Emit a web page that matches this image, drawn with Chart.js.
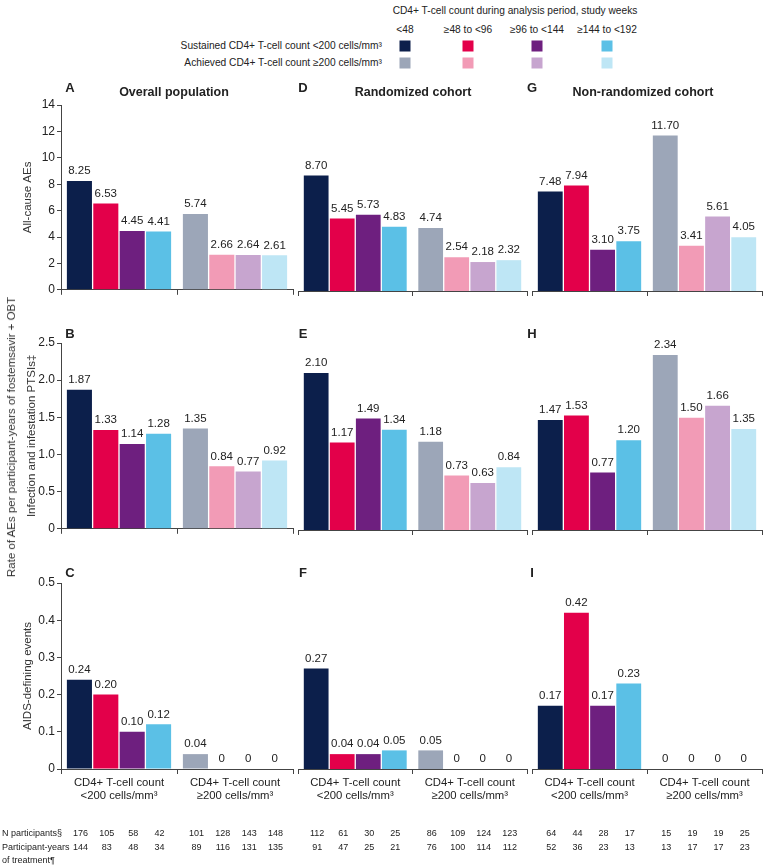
<!DOCTYPE html>
<html>
<head>
<meta charset="UTF-8">
<title>AE rates by CD4+ T-cell count</title>
<script src="https://cdn.jsdelivr.net/npm/chart.js@4"></script>
<style>
    body { margin: 0; background: #fff; font-family: 'Liberation Sans', Arial, sans-serif; color: #222; }
    #page { position: relative; width: 767px; height: 866px; overflow: hidden; }
    canvas { position: absolute; }
    .t { position: absolute; white-space: nowrap; transform: translate(-50%, -50%); }
    .letter { font-weight: bold; font-size: 13px; }
    .ptitle { font-weight: bold; font-size: 12.5px; }
    .leg { font-size: 10.2px; }
    .sw { position: absolute; width: 11px; height: 11px; transform: translate(-50%, -50%); }
</style>
</head>
<body>
<div id="page">
    <canvas id="pA"></canvas><canvas id="pD"></canvas><canvas id="pG"></canvas>
    <canvas id="pB"></canvas><canvas id="pE"></canvas><canvas id="pH"></canvas>
    <canvas id="pC"></canvas><canvas id="pF"></canvas><canvas id="pI"></canvas>
</div>

<script>
    // analysis periods (study weeks) and the two CD4+ groups
    const periods = ['<48', '≥48 to <96', '≥96 to <144', '≥144 to <192'];
    const groupLabels = [['CD4+ T-cell count', '<200 cells/mm³'], ['CD4+ T-cell count', '≥200 cells/mm³']];
    const darkColors = ['#0c1f4b', '#e3004a', '#6e1f7f', '#5bc0e6'];
    const lightColors = ['#9ca6b8', '#f29bb6', '#c7a5cf', '#bee6f5'];

    // all-cause AEs
    const aeOverallLow = [8.25, 6.53, 4.45, 4.41];
    const aeOverallHigh = [5.74, 2.66, 2.64, 2.61];
    const aeRandLow = [8.70, 5.45, 5.73, 4.83];
    const aeRandHigh = [4.74, 2.54, 2.18, 2.32];
    const aeNonRandLow = [7.48, 7.94, 3.10, 3.75];
    const aeNonRandHigh = [11.70, 3.41, 5.61, 4.05];

    // infection and infestation PTSIs
    const infOverallLow = [1.87, 1.33, 1.14, 1.28];
    const infOverallHigh = [1.35, 0.84, 0.77, 0.92];
    const infRandLow = [2.10, 1.17, 1.49, 1.34];
    const infRandHigh = [1.18, 0.73, 0.63, 0.84];
    const infNonRandLow = [1.47, 1.53, 0.77, 1.20];
    const infNonRandHigh = [2.34, 1.50, 1.66, 1.35];

    // AIDS-defining events
    const aidsOverallLow = [0.24, 0.20, 0.10, 0.12];
    const aidsOverallHigh = [0.04, 0, 0, 0];
    const aidsRandLow = [0.27, 0.04, 0.04, 0.05];
    const aidsRandHigh = [0.05, 0, 0, 0];
    const aidsNonRandLow = [0.17, 0.42, 0.17, 0.23];
    const aidsNonRandHigh = [0, 0, 0, 0];

    // N participants and participant-years of treatment
    const nOverall = [176, 105, 58, 42, 101, 128, 143, 148];
    const pyOverall = [144, 83, 48, 34, 89, 116, 131, 135];
    const nRand = [112, 61, 30, 25, 86, 109, 124, 123];
    const pyRand = [91, 47, 25, 21, 76, 100, 114, 112];
    const nNonRand = [64, 44, 28, 17, 15, 19, 19, 25];
    const pyNonRand = [52, 36, 23, 13, 13, 17, 17, 23];

    const FONT = "'Liberation Sans', Arial, sans-serif";
    const AXIS = '#444';
    const page = document.getElementById('page');

    function addText(html, x, y, cls, extra) {
        const d = document.createElement('div');
        d.className = 't ' + (cls || '');
        d.innerHTML = html;
        d.style.left = x + 'px';
        d.style.top = y + 'px';
        if (extra) Object.assign(d.style, extra);
        page.appendChild(d);
        return d;
    }

    // legend
    addText('CD4+ T-cell count during analysis period, study weeks', 515, 10, 'leg');
    const legX = [405, 468, 537, 607];
    periods.forEach((p, i) => {
        addText(p, legX[i], 29, 'leg');
        [[darkColors, 45.5], [lightColors, 62.5]].forEach(([cols, y]) => {
            const s = document.createElement('div');
            s.className = 'sw';
            s.style.left = legX[i] + 'px';
            s.style.top = y + 'px';
            s.style.background = cols[i];
            page.appendChild(s);
        });
    });
    addText('Sustained CD4+ T-cell count &lt;200 cells/mm³', 382, 45, 'leg', {transform: 'translate(-100%, -50%)'});
    addText('Achieved CD4+ T-cell count ≥200 cells/mm³', 382, 62, 'leg', {transform: 'translate(-100%, -50%)'});

    // panel letters and titles
    addText('A', 70, 87, 'letter'); addText('D', 303, 87, 'letter'); addText('G', 532, 87, 'letter');
    addText('B', 70, 333, 'letter'); addText('E', 303, 333, 'letter'); addText('H', 532, 333, 'letter');
    addText('C', 70, 572, 'letter'); addText('F', 303, 572, 'letter'); addText('I', 532, 572, 'letter');
    addText('Overall population', 174, 92, 'ptitle');
    addText('Randomized cohort', 413, 92, 'ptitle');
    addText('Non-randomized cohort', 643, 92, 'ptitle');

    // shared y title
    addText('Rate of AEs per participant-years of fostemsavir + OBT', 11, 437, '',
        {fontSize: '11.5px', color: '#333', transform: 'translate(-50%, -50%) rotate(-90deg)'});

    const valueLabels = {
        id: 'valueLabels',
        afterDatasetsDraw(chart) {
            const ctx = chart.ctx;
            ctx.save();
            ctx.font = '11.5px ' + FONT;
            ctx.fillStyle = '#222';
            ctx.textAlign = 'center';
            ctx.textBaseline = 'middle';
            chart.data.datasets.forEach((ds, i) => {
                chart.getDatasetMeta(i).data.forEach((bar, j) => {
                    const v = ds.data[j];
                    ctx.fillText(v === 0 ? '0' : v.toFixed(2), bar.x, bar.y - 10);
                });
            });
            ctx.restore();
        }
    };

    const countTable = {
        id: 'countTable',
        afterDraw(chart, args, opts) {
            if (!opts.n) return;
            const ctx = chart.ctx;
            const b = chart.chartArea.bottom;
            ctx.save();
            ctx.font = '9px ' + FONT;
            ctx.fillStyle = '#222';
            ctx.textBaseline = 'middle';
            ctx.textAlign = 'center';
            chart.data.datasets.forEach((ds, i) => {
                chart.getDatasetMeta(i).data.forEach((bar, j) => {
                    ctx.fillText(String(opts.n[j * 4 + i]), bar.x + 1, b + 65);
                    ctx.fillText(String(opts.py[j * 4 + i]), bar.x + 1, b + 79);
                });
            });
            if (opts.rowLabels) {
                ctx.textAlign = 'left';
                ctx.fillText('N participants§', 2, b + 65);
                ctx.fillText('Participant-years', 2, b + 79);
                ctx.fillText('of treatment¶', 2, b + 92);
            }
            ctx.restore();
        }
    };

    // col: 0..2, row: 0..2
    const colX = [0, 296, 530];
    const colW = [295, 233, 234];
    const rowTop = [90, 328, 568];
    const areaH = [186, 187, 186];
    const yMax = [14, 2.5, 0.5];
    const yStep = [2, 0.5, 0.1];
    const yTitles = ['All-cause AEs', 'Infection and infestation PTSIs‡', 'AIDS-defining events'];
    const yTitlePad = [21, 25, 21];

    function panel(id, row, col, low, high, counts) {
        const hasY = col === 0;
        const bottom = row === 2;
        const xh = bottom ? 97 : 8;
        const el = document.getElementById(id);
        el.width = colW[col];
        el.height = 15 + areaH[row] + xh;
        el.style.left = colX[col] + 'px';
        el.style.top = rowTop[row] + 'px';

        new Chart(el, {
            type: 'bar',
            data: {
                labels: groupLabels,
                datasets: periods.map((p, i) => ({
                    label: p,
                    data: [low[i], high[i]],
                    backgroundColor: [darkColors[i], lightColors[i]],
                    categoryPercentage: 0.91,
                    barPercentage: 0.95
                }))
            },
            options: {
                responsive: false,
                animation: false,
                layout: { padding: { top: 15, left: hasY ? 0 : 2, right: 2, bottom: 0 } },
                plugins: {
                    legend: { display: false },
                    tooltip: { enabled: false },
                    countTable: counts || {}
                },
                scales: {
                    x: {
                        grid: { display: true, drawOnChartArea: false, offset: true, tickLength: 5, color: AXIS },
                        border: { color: AXIS },
                        ticks: {
                            display: bottom,
                            color: '#222',
                            padding: 3,
                            maxRotation: 0,
                            minRotation: 0,
                            autoSkip: false,
                            font: { family: FONT, size: 11.3, lineHeight: 1.1 }
                        },
                        afterFit: s => { s.height = xh; }
                    },
                    y: {
                        display: hasY,
                        min: 0,
                        max: yMax[row],
                        ticks: { stepSize: yStep[row], color: '#222', padding: 2, font: { family: FONT, size: 12 } },
                        grid: { drawOnChartArea: false, tickLength: 4, color: AXIS },
                        border: { color: AXIS },
                        title: {
                            display: true,
                            text: yTitles[row],
                            color: '#333',
                            font: { family: FONT, size: 11.5 },
                            padding: { top: yTitlePad[row], bottom: 0 }
                        },
                        afterFit: s => { s.width = hasY ? 61 : 0; }
                    }
                }
            },
            plugins: [valueLabels, countTable]
        });
    }

    panel('pA', 0, 0, aeOverallLow, aeOverallHigh);
    panel('pD', 0, 1, aeRandLow, aeRandHigh);
    panel('pG', 0, 2, aeNonRandLow, aeNonRandHigh);
    panel('pB', 1, 0, infOverallLow, infOverallHigh);
    panel('pE', 1, 1, infRandLow, infRandHigh);
    panel('pH', 1, 2, infNonRandLow, infNonRandHigh);
    panel('pC', 2, 0, aidsOverallLow, aidsOverallHigh, { n: nOverall, py: pyOverall, rowLabels: true });
    panel('pF', 2, 1, aidsRandLow, aidsRandHigh, { n: nRand, py: pyRand });
    panel('pI', 2, 2, aidsNonRandLow, aidsNonRandHigh, { n: nNonRand, py: pyNonRand });
</script>
</body>
</html>
